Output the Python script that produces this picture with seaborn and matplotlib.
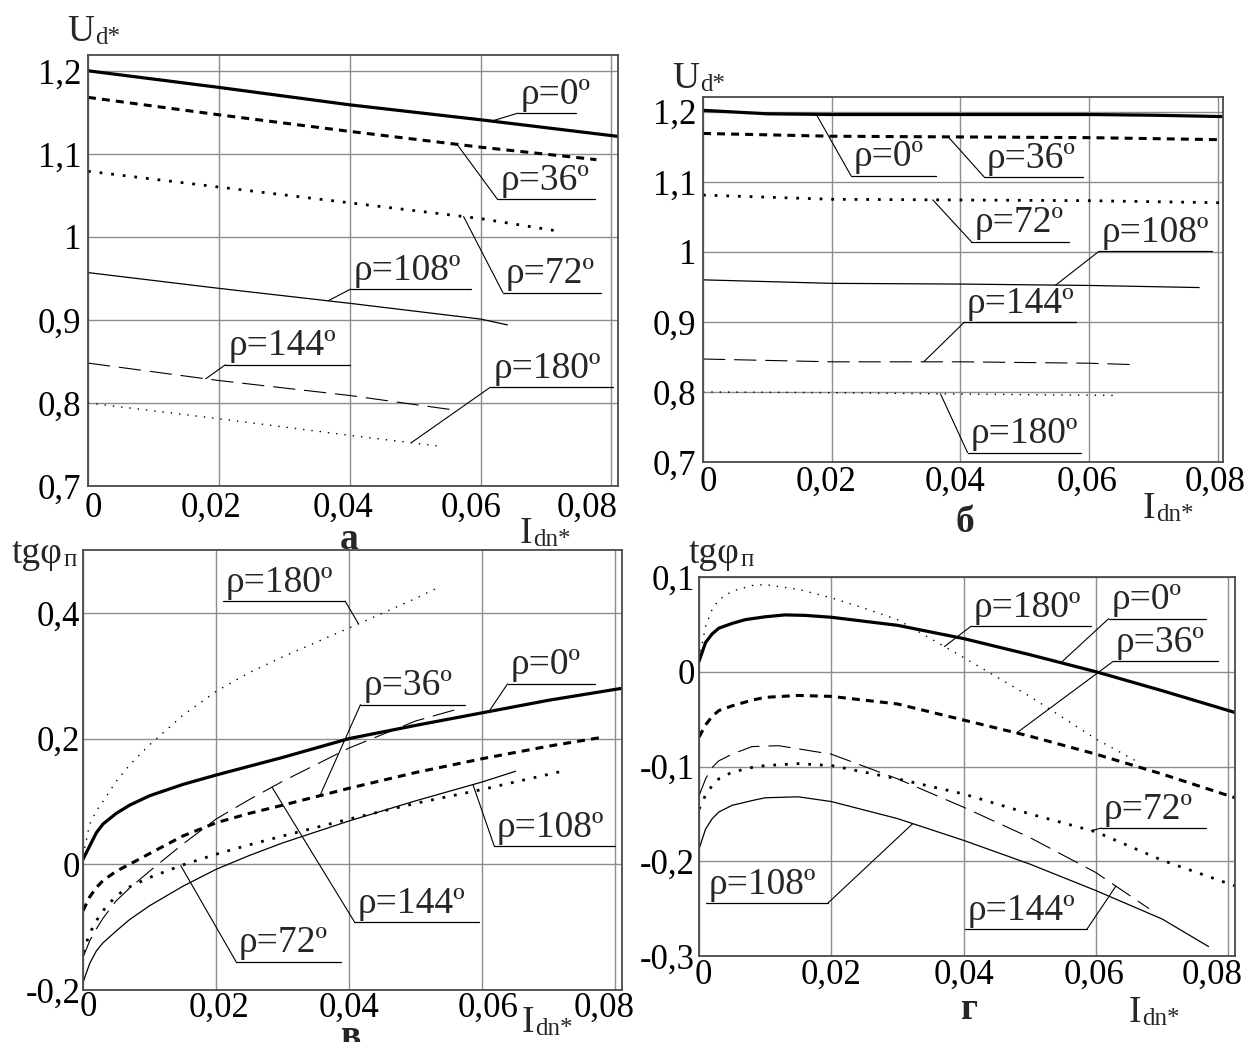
import numpy as np
import matplotlib
matplotlib.use("Agg")
import matplotlib.pyplot as plt
import matplotlib.transforms as mtransforms
from matplotlib.text import Annotation
import seaborn as sns

# ---------------- data ----------------
RHO = [0, 36, 72, 108, 144, 180]

# panel а : U_d* vs I_dn*  (first regime)
A_X0 = [0, 0.02, 0.04, 0.06, 0.081]
A_Y0 = [1.200, 1.180, 1.159, 1.141, 1.121]
A_X36 = [0, 0.02, 0.04, 0.06, 0.0777]
A_Y36 = [1.168, 1.147, 1.127, 1.108, 1.093]
A_X72 = [0, 0.02, 0.04, 0.06, 0.0718]
A_Y72 = [1.079, 1.060, 1.041, 1.022, 1.007]
A_X108 = [0, 0.02, 0.04, 0.06, 0.0641]
A_Y108 = [0.957, 0.938, 0.920, 0.901, 0.894]
A_X144 = [0, 0.02, 0.04, 0.0564]
A_Y144 = [0.848, 0.827, 0.809, 0.791]
A_X180 = [0, 0.02, 0.04, 0.0537]
A_Y180 = [0.800, 0.781, 0.761, 0.748]

# panel б : U_d* vs I_dn*  (second regime)
B_X0 = [0, 0.01, 0.02, 0.04, 0.06, 0.07, 0.081]
B_Y0 = [1.202, 1.197, 1.196, 1.196, 1.196, 1.195, 1.193]
B_X36 = [0, 0.02, 0.04, 0.06, 0.081]
B_Y36 = [1.169, 1.165, 1.164, 1.163, 1.160]
B_X72 = [0, 0.02, 0.04, 0.06, 0.081]
B_Y72 = [1.081, 1.075, 1.074, 1.073, 1.070]
B_X108 = [0, 0.02, 0.04, 0.06, 0.0771]
B_Y108 = [0.960, 0.955, 0.954, 0.952, 0.949]
B_X144 = [0, 0.02, 0.04, 0.06, 0.0669]
B_Y144 = [0.847, 0.843, 0.843, 0.841, 0.839]
B_X180 = [0, 0.02, 0.04, 0.0641]
B_Y180 = [0.800, 0.799, 0.797, 0.795]

# panel в : tg(phi) vs I_dn*  (first regime)
C_X0 = [0, 0.001, 0.002, 0.003, 0.005, 0.007, 0.01, 0.015, 0.02, 0.025, 0.03, 0.035,
        0.04, 0.05, 0.06, 0.07, 0.081]
C_Y0 = [0.008, 0.029, 0.050, 0.064, 0.081, 0.094, 0.109, 0.127, 0.142, 0.156, 0.170, 0.185,
        0.200, 0.221, 0.241, 0.261, 0.280]
C_X36 = [0, 0.001, 0.002, 0.003, 0.005, 0.007, 0.01, 0.015, 0.02, 0.025, 0.03, 0.04,
         0.05, 0.06, 0.07, 0.078]
C_Y36 = [-0.074, -0.052, -0.037, -0.026, -0.011, 0.0, 0.017, 0.045, 0.066, 0.081, 0.094, 0.121,
         0.146, 0.168, 0.188, 0.202]
C_X72 = [0, 0.001, 0.002, 0.003, 0.005, 0.007, 0.01, 0.015, 0.02, 0.025, 0.03, 0.04,
         0.05, 0.06, 0.072]
C_Y72 = [-0.140, -0.110, -0.090, -0.074, -0.050, -0.036, -0.021, -0.001, 0.016, 0.031, 0.045, 0.072,
         0.097, 0.119, 0.148]
C_X108 = [0, 0.001, 0.002, 0.003, 0.005, 0.007, 0.01, 0.015, 0.02, 0.025, 0.03, 0.04,
          0.05, 0.06, 0.065]
C_Y108 = [-0.188, -0.158, -0.138, -0.125, -0.106, -0.088, -0.066, -0.035, -0.008, 0.014, 0.034, 0.069,
          0.101, 0.131, 0.148]
C_X144 = [0, 0.001, 0.002, 0.003, 0.005, 0.007, 0.01, 0.015, 0.02, 0.025, 0.03, 0.04,
          0.05, 0.056]
C_Y144 = [-0.148, -0.122, -0.103, -0.086, -0.058, -0.038, -0.011, 0.032, 0.072, 0.103, 0.132, 0.185,
          0.228, 0.246]
C_X180 = [0, 0.001, 0.002, 0.003, 0.005, 0.007, 0.01, 0.015, 0.02, 0.025, 0.03, 0.04,
          0.05, 0.0533]
C_Y180 = [0.013, 0.064, 0.085, 0.100, 0.132, 0.158, 0.190, 0.237, 0.275, 0.305, 0.330, 0.376,
          0.423, 0.440]

# panel г : tg(phi) vs I_dn*  (second regime)
D_X0 = [0, 0.001, 0.002, 0.003, 0.005, 0.007, 0.01, 0.013, 0.016, 0.02, 0.03, 0.04, 0.05,
        0.06, 0.07, 0.081]
D_Y0 = [0.011, 0.031, 0.040, 0.046, 0.051, 0.055, 0.058, 0.060, 0.0595, 0.0575, 0.049, 0.035, 0.018,
        0.0, -0.020, -0.043]
D_X36 = [0, 0.001, 0.002, 0.003, 0.005, 0.008, 0.01, 0.015, 0.02, 0.03, 0.04, 0.05, 0.06,
         0.07, 0.081]
D_Y36 = [-0.069, -0.056, -0.047, -0.041, -0.036, -0.030, -0.027, -0.025, -0.026, -0.034, -0.051,
         -0.068, -0.087, -0.108, -0.133]
D_X72 = [0, 0.001, 0.002, 0.003, 0.005, 0.008, 0.01, 0.015, 0.02, 0.03, 0.04, 0.05, 0.06,
         0.07, 0.081]
D_Y72 = [-0.145, -0.130, -0.120, -0.113, -0.106, -0.101, -0.099, -0.097, -0.099, -0.113, -0.129,
         -0.150, -0.169, -0.199, -0.226]
D_X108 = [0, 0.001, 0.002, 0.003, 0.005, 0.008, 0.01, 0.015, 0.02, 0.03, 0.04, 0.05, 0.06,
          0.07, 0.077]
D_Y108 = [-0.187, -0.166, -0.155, -0.148, -0.141, -0.136, -0.133, -0.132, -0.137, -0.155, -0.178,
          -0.203, -0.231, -0.261, -0.290]
D_X144 = [0, 0.001, 0.002, 0.003, 0.005, 0.008, 0.012, 0.02, 0.03, 0.04, 0.05, 0.06, 0.068]
D_Y144 = [-0.131, -0.113, -0.101, -0.094, -0.087, -0.079, -0.078, -0.087, -0.113, -0.143, -0.175,
          -0.212, -0.250]
D_X180 = [0, 0.001, 0.002, 0.003, 0.005, 0.008, 0.01, 0.015, 0.02, 0.025, 0.03, 0.04, 0.05,
          0.06, 0.066]
D_Y180 = [0.013, 0.048, 0.066, 0.076, 0.085, 0.091, 0.092, 0.087, 0.078, 0.067, 0.055, 0.015,
          -0.026, -0.071, -0.094]

# ticks
X_TICKS = [0, 0.02, 0.04, 0.06, 0.08]
X_TICKLABELS = ["0", "0,02", "0,04", "0,06", "0,08"]
U_TICKS = [1.2, 1.1, 1.0, 0.9, 0.8, 0.7]
U_TICKLABELS = ["1,2", "1,1", "1", "0,9", "0,8", "0,7"]
C_TICKS = [0.4, 0.2, 0.0, -0.2]
C_TICKLABELS = ["0,4", "0,2", "0", "-0,2"]
D_TICKS = [0.1, 0.0, -0.1, -0.2, -0.3]
D_TICKLABELS = ["0,1", "0", "-0,1", "-0,2", "-0,3"]

PANEL_LETTERS = ["а", "б", "в", "г"]

# ---------------- style ----------------
sns.set_theme(style="whitegrid")
plt.rcParams["font.family"] = ["Liberation Serif", "DejaVu Serif"]

STYLES = {
    0: dict(linewidth=2.3, linestyle="-"),
    36: dict(linewidth=2.2, linestyle=(0, (2.6, 2.0))),
    72: dict(linewidth=2.0, linestyle=(0, (1.0, 3.2))),
    108: dict(linewidth=0.9, linestyle="-"),
    144: dict(linewidth=0.8, linestyle=(0, (20, 8))),
    180: dict(linewidth=1.0, linestyle=(0, (1.0, 5.0))),
}

W, H = 1253, 1042
fig = plt.figure(figsize=(W / 100, H / 100), dpi=100)
fig.patch.set_facecolor("white")


def px_rect(l, t, r, b):
    return [l / W, 1 - b / H, (r - l) / W, (b - t) / H]


TICK_FS = 25
RHO_FS = 27
LABEL_FS = 27
SUB_FS = 18


def make_panel(rect, series, xmax, ylim, yticks, yticklabels, xpad, ypad, xoffs):
    ax = fig.add_axes(px_rect(*rect))
    ax.set_facecolor("white")
    for rho, (xs, ys) in zip(RHO, series):
        sns.lineplot(x=xs, y=ys, ax=ax, color="black", sort=False,
                     estimator=None, **STYLES[rho])
    ax.set_xlim(0, xmax)
    ax.set_ylim(*ylim)
    ax.set_xticks(X_TICKS)
    ax.set_xticklabels(X_TICKLABELS, fontsize=TICK_FS)
    ax.set_yticks(yticks)
    ax.set_yticklabels(yticklabels, fontsize=TICK_FS)
    ax.tick_params(axis="x", length=0, pad=xpad, colors="black")
    ax.tick_params(axis="y", length=0, pad=ypad, colors="black")
    ax.grid(True, color="#8e8e8e", linewidth=1.0)
    for s in ax.spines.values():
        s.set_visible(True)
        s.set_color("#4a4a4a")
        s.set_linewidth(1.3)
    ax.set_xlabel("")
    ax.set_ylabel("")
    for lbl, dx in zip(ax.get_xticklabels(), xoffs):
        lbl.set_transform(lbl.get_transform() +
                          mtransforms.ScaledTranslation(dx / 100, 0, fig.dpi_scale_trans))
    return ax


def annotate(ax, series, label, rho, xa, x0, x1, yl, end):
    xs, ys = series[RHO.index(rho)]
    ya = np.interp(xa, xs, ys)
    ax.plot([x0, x1], [yl, yl], color="black", linewidth=0.9)
    xe = x0 if end == "left" else x1
    ax.plot([xe, xa], [yl, ya], color="black", linewidth=0.8)
    ax.annotate(label, xy=(x0, yl), xytext=(2, 1), textcoords="offset points",
                ha="left", va="bottom", fontsize=RHO_FS)


def ftext(x, y, s, **kw):
    return fig.text(x / W, 1 - y / H, s, **kw)


def sub_label(x, y, main, sub):
    t = ftext(x, y, main, fontsize=LABEL_FS, va="baseline", ha="left")
    a = Annotation(sub, xy=(1, 0), xycoords=t, xytext=(0.5, 3.5),
                   textcoords="offset points", fontsize=SUB_FS,
                   va="baseline", ha="left")
    fig.add_artist(a)


# ----- panel а -----
A_SERIES = [(A_X0, A_Y0), (A_X36, A_Y36), (A_X72, A_Y72),
            (A_X108, A_Y108), (A_X144, A_Y144), (A_X180, A_Y180)]
axA = make_panel((88, 55, 618, 486), A_SERIES, 0.081, (0.7, 1.219), U_TICKS, U_TICKLABELS,
                 4, 5, [5, -8, -7, -10, -24])
for lab, rho, xa, x0, x1, yl, end in [
        ("ρ=0º", 0, 0.0617, 0.0657, 0.0746, 1.149, "left"),
        ("ρ=36º", 36, 0.0564, 0.0626, 0.0775, 1.045, "left"),
        ("ρ=72º", 72, 0.0574, 0.0634, 0.0784, 0.933, "left"),
        ("ρ=108º", 108, 0.0367, 0.0401, 0.0586, 0.937, "left"),
        ("ρ=144º", 144, 0.018, 0.021, 0.040, 0.846, "left"),
        ("ρ=180º", 180, 0.0494, 0.0615, 0.0802, 0.819, "left")]:
    annotate(axA, A_SERIES, lab, rho, xa, x0, x1, yl, end)

# ----- panel б -----
B_SERIES = [(B_X0, B_Y0), (B_X36, B_Y36), (B_X72, B_Y72),
            (B_X108, B_Y108), (B_X144, B_Y144), (B_X180, B_Y180)]
axB = make_panel((703, 97, 1223, 462), B_SERIES, 0.0808, (0.7, 1.221), U_TICKS, U_TICKLABELS,
                 3, 5, [5, -6, -5, -2, -3])
for lab, rho, xa, x0, x1, yl, end in [
        ("ρ=0º", 0, 0.0176, 0.023, 0.0362, 1.1087, "left"),
        ("ρ=36º", 36, 0.0381, 0.0437, 0.059, 1.1067, "left"),
        ("ρ=72º", 72, 0.0357, 0.0417, 0.0569, 1.0144, "left"),
        ("ρ=108º", 108, 0.0548, 0.0615, 0.0791, 1.0005, "left"),
        ("ρ=144º", 144, 0.0343, 0.0406, 0.058, 0.8995, "left"),
        ("ρ=180º", 180, 0.0369, 0.0411, 0.0587, 0.7135, "left")]:
    annotate(axB, B_SERIES, lab, rho, xa, x0, x1, yl, end)

# ----- panel в -----
C_SERIES = [(C_X0, C_Y0), (C_X36, C_Y36), (C_X72, C_Y72),
            (C_X108, C_Y108), (C_X144, C_Y144), (C_X180, C_Y180)]
axC = make_panel((83, 550, 622, 990), C_SERIES, 0.081, (-0.2, 0.5), C_TICKS, C_TICKLABELS,
                 1, 2, [5, 3, 0, 6, -11])
for lab, rho, xa, x0, x1, yl, end in [
        ("ρ=180º", 180, 0.0414, 0.021, 0.0394, 0.4185, "right"),
        ("ρ=0º", 0, 0.061, 0.0638, 0.077, 0.287, "left"),
        ("ρ=36º", 36, 0.0356, 0.0417, 0.0574, 0.254, "left"),
        ("ρ=108º", 108, 0.0586, 0.0618, 0.080, 0.029, "left"),
        ("ρ=144º", 144, 0.0284, 0.0408, 0.0595, -0.0917, "left"),
        ("ρ=72º", 72, 0.0147, 0.023, 0.0387, -0.155, "left")]:
    annotate(axC, C_SERIES, lab, rho, xa, x0, x1, yl, end)

# ----- panel г -----
D_SERIES = [(D_X0, D_Y0), (D_X36, D_Y36), (D_X72, D_Y72),
            (D_X108, D_Y108), (D_X144, D_Y144), (D_X180, D_Y180)]
axD = make_panel((699, 577, 1235, 956), D_SERIES, 0.081, (-0.3, 0.1), D_TICKS, D_TICKLABELS,
                 2, 3, [4, 0, 0, -2, -16])
for lab, rho, xa, x0, x1, yl, end in [
        ("ρ=180º", 180, 0.0371, 0.0411, 0.0593, 0.048, "left"),
        ("ρ=0º", 0, 0.0547, 0.0619, 0.0766, 0.056, "left"),
        ("ρ=36º", 36, 0.048, 0.0626, 0.0784, 0.011, "left"),
        ("ρ=72º", 72, 0.0593, 0.0608, 0.0766, -0.165, "left"),
        ("ρ=108º", 108, 0.0323, 0.001, 0.0195, -0.244, "right"),
        ("ρ=144º", 144, 0.063, 0.0402, 0.0586, -0.272, "right")]:
    annotate(axD, D_SERIES, lab, rho, xa, x0, x1, yl, end)

# ----- axis titles and panel letters -----
sub_label(67, 41, "U", "d*")
sub_label(672, 88, "U", "d*")
sub_label(12, 563, "tgφ", "п")
sub_label(689, 563, "tgφ", "п")

sub_label(520, 543, "I", "dn*")
sub_label(1143, 518, "I", "dn*")
sub_label(522, 1032, "I", "dn*")
sub_label(1129, 1022, "I", "dn*")

for (px, py), letter in zip([(349, 549), (965, 532), (351, 1046), (969, 1019)], PANEL_LETTERS):
    ftext(px, py, letter, fontsize=LABEL_FS, fontweight="bold", va="baseline", ha="center")

fig.savefig("out.png", dpi=100, facecolor="white")
